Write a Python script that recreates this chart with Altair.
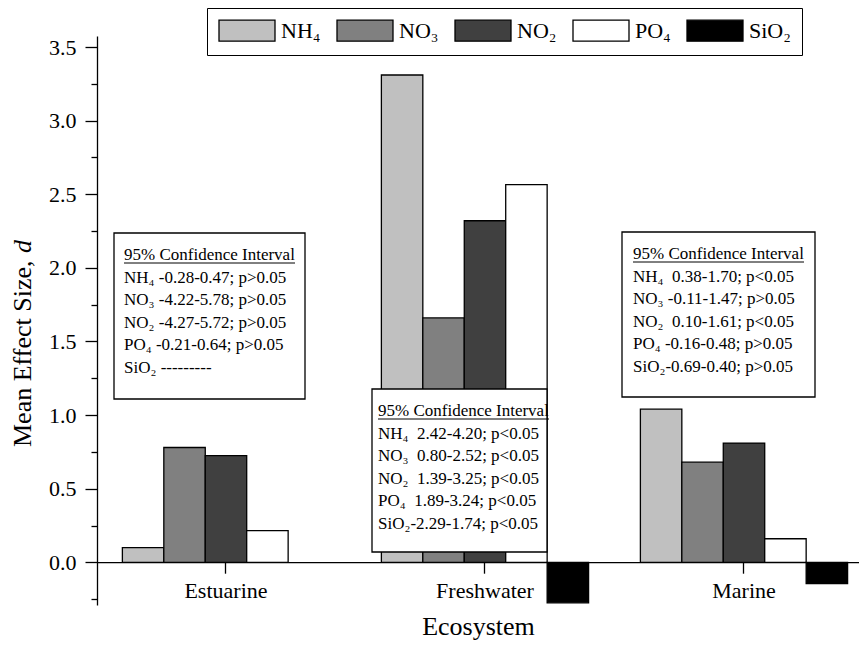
import altair as alt
import pandas as pd

# ---------------- data ----------------
ecosystems = ["Estuarine", "Freshwater", "Marine"]
nutrients = ["NH₄", "NO₃", "NO₂", "PO₄", "SiO₂"]
estuarine_d = [0.10, 0.78, 0.725, 0.215, None]
freshwater_d = [3.31, 1.66, 2.32, 2.565, -0.275]
marine_d = [1.04, 0.68, 0.81, 0.16, -0.145]

ci_header = "95% Confidence Interval"
estuarine_ci = [
    "NH₄ -0.28-0.47; p>0.05",
    "NO₃ -4.22-5.78; p>0.05",
    "NO₂ -4.27-5.72; p>0.05",
    "PO₄ -0.21-0.64; p>0.05",
    "SiO₂ ---------",
]
freshwater_ci = [
    "NH₄\u00a0\u00a02.42-4.20; p<0.05",
    "NO₃\u00a0\u00a00.80-2.52; p<0.05",
    "NO₂\u00a0\u00a01.39-3.25; p<0.05",
    "PO₄\u00a0\u00a01.89-3.24; p<0.05",
    "SiO₂-2.29-1.74; p<0.05",
]
marine_ci = [
    "NH₄\u00a0\u00a00.38-1.70; p<0.05",
    "NO₃ -0.11-1.47; p>0.05",
    "NO₂\u00a0\u00a00.10-1.61; p<0.05",
    "PO₄ -0.16-0.48; p>0.05",
    "SiO₂-0.69-0.40; p>0.05",
]

y_ticks = [0.0, 0.5, 1.0, 1.5, 2.0, 2.5, 3.0, 3.5]
y_minor = [-0.25, 0.25, 0.75, 1.25, 1.75, 2.25, 2.75, 3.25]
y_title_main = "Mean Effect Size,"
y_title_var = "d"
x_title = "Ecosystem"

# ---------------- styles / layout ----------------
fills = ["#c0c0c0", "#808080", "#404040", "#ffffff", "#000000"]
FONT = "Liberation Serif"
W, H = 762, 569
Y_DOMAIN = [-0.29, 3.575]
LINE = 22.5
CI_SIZE = 17
box_px = [(17, 197, 208, 363), (275, 353, 450, 516), (525, 196, 718, 361)]
text_px = [(27, 219), (281, 375), (536, 218)]
HEADER_W = 171
YT_SIZE = 26

rows = []
for eco, vals in zip(ecosystems, [estuarine_d, freshwater_d, marine_d]):
    for n, v in zip(nutrients, vals):
        if v is not None:
            rows.append({"Ecosystem": eco, "Nutrient": n, "d": v})
bars_df = pd.DataFrame(rows)

bars = alt.Chart(bars_df).mark_bar(stroke="black", strokeWidth=1.3).encode(
    x=alt.X(
        "Ecosystem:N",
        sort=ecosystems,
        scale=alt.Scale(domain=ecosystems, paddingInner=0.2, paddingOuter=0.071, align=0.69),
        axis=alt.Axis(
            title=x_title, labelAngle=0, offset=-42.8, tickSize=11, labelPadding=7,
            titlePadding=12, labelFontSize=22, titleFontSize=26, domainColor="black",
            tickColor="black", grid=False,
        ),
    ),
    xOffset=alt.XOffset(
        "Nutrient:N", sort=nutrients,
        scale=alt.Scale(domain=nutrients, paddingInner=0, paddingOuter=0),
    ),
    y=alt.Y(
        "d:Q",
        scale=alt.Scale(domain=Y_DOMAIN, nice=False, zero=False),
        axis=alt.Axis(
            values=y_ticks, format=".1f", tickSize=12, labelPadding=9, title=None,
            grid=False, orient="left", labelFontSize=22,
        ),
    ),
    y2=alt.datum(0),
    fill=alt.Fill(
        "Nutrient:N", sort=nutrients,
        scale=alt.Scale(domain=nutrients, range=fills),
        legend=alt.Legend(
            title=None, orient="none", legendX=110, legendY=-28, direction="horizontal",
            symbolType="M-1,-1H4.333V1H-1Z", symbolSize=441, symbolStrokeColor="black",
            symbolStrokeWidth=1.3, symbolOpacity=1, labelFont=FONT, labelFontSize=22,
            labelColor="black", labelOffset=40, columnPadding=13, padding=11,
            strokeColor="black", fillColor="white", labelLimit=0,
        ),
    ),
)

minor = alt.Chart(bars_df).mark_point(opacity=0).encode(
    y=alt.Y(
        "d:Q",
        scale=alt.Scale(domain=Y_DOMAIN, nice=False, zero=False),
        axis=alt.Axis(values=y_minor, tickSize=6, labels=False, domain=False,
                      title=None, grid=False, orient="left"),
    )
)

boxes_df = pd.DataFrame(
    {"x1": [b[0] for b in box_px], "y1": [b[1] for b in box_px],
     "x2": [b[2] for b in box_px], "y2": [b[3] for b in box_px]}
)
rects = alt.Chart(boxes_df).mark_rect(fill="white", stroke="black", strokeWidth=1.3).encode(
    x=alt.X("x1:Q", scale=None, axis=None),
    x2="x2:Q",
    y=alt.Y("y1:Q", scale=None, axis=None),
    y2="y2:Q",
)

trows = []
urows = []
for (tx, ty), lines in zip(text_px, [estuarine_ci, freshwater_ci, marine_ci]):
    trows.append({"tx": tx, "ty": ty, "t": ci_header})
    urows.append({"ux1": tx, "ux2": tx + HEADER_W, "uy": ty + 8})
    for k, ln in enumerate(lines):
        trows.append({"tx": tx, "ty": ty + LINE * (k + 1), "t": ln})
text_df = pd.DataFrame(trows)
ul_df = pd.DataFrame(urows)

texts = alt.Chart(text_df).mark_text(
    align="left", baseline="middle", font=FONT, fontSize=CI_SIZE, color="black"
).encode(
    x=alt.X("tx:Q", scale=None, axis=None),
    y=alt.Y("ty:Q", scale=None, axis=None),
    text="t:N",
)

underlines = alt.Chart(ul_df).mark_rule(color="black", strokeWidth=1).encode(
    x=alt.X("ux1:Q", scale=None, axis=None),
    x2="ux2:Q",
    y=alt.Y("uy:Q", scale=None, axis=None),
)

yt_df = pd.DataFrame({"t": [y_title_main], "x": [-66], "y": [411]})
ytitle = alt.Chart(yt_df).mark_text(
    angle=270, align="left", baseline="alphabetic", font=FONT, fontSize=YT_SIZE, color="black"
).encode(
    x=alt.X("x:Q", scale=None, axis=None),
    y=alt.Y("y:Q", scale=None, axis=None),
    text="t:N",
)
yv_df = pd.DataFrame({"t": [y_title_var], "x": [-66], "y": [217]})
yvar = alt.Chart(yv_df).mark_text(
    angle=270, align="left", baseline="alphabetic", font=FONT, fontSize=YT_SIZE,
    fontStyle="italic", color="black"
).encode(
    x=alt.X("x:Q", scale=None, axis=None),
    y=alt.Y("y:Q", scale=None, axis=None),
    text="t:N",
)

chart = (
    alt.layer(bars, minor, rects, underlines, texts, ytitle, yvar)
    .resolve_axis(y="independent")
    .properties(
        width=W, height=H,
        autosize=alt.AutoSizeParams(type="none"),
        padding={"left": 89, "top": 28, "right": 0, "bottom": 37},
    )
    .configure_view(stroke=None)
    .configure_axis(
        labelFont=FONT, titleFont=FONT, labelColor="black", titleColor="black",
        domainColor="black", tickColor="black", titleFontWeight="normal",
        domainWidth=1.3, tickWidth=1.3, grid=False,
    )
)

chart.save("out.html", embed_options={"renderer": "svg", "actions": False})
